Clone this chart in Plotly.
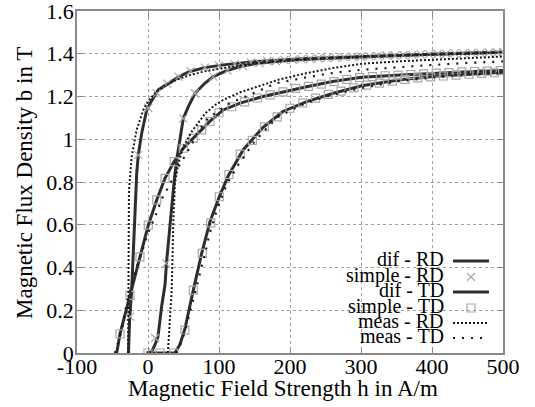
import plotly.graph_objects as go

# ---------------- data ----------------
# dif - RD : two rising branches (solid)
dif_rd1_h = [-27.5, -26, -23, -19.5, -15.9, -13.7, -8.9, -1.8, 5, 14.5, 28.6, 45, 59, 80, 106, 153, 223, 300, 400, 500]
dif_rd1_b = [0, 0.15, 0.294, 0.56, 0.84, 0.926, 1.028, 1.137, 1.18, 1.231, 1.262, 1.295, 1.317, 1.335, 1.348, 1.364, 1.378, 1.388, 1.398, 1.408]
dif_rd2_h = [-2, 5, 10, 14, 19.3, 24, 26, 31, 37, 40.4, 45, 49.7, 56.8, 66.2, 80, 92, 110, 130, 153, 176.5, 200, 240, 300, 400, 500]
dif_rd2_b = [0, 0.005, 0.04, 0.075, 0.22, 0.32, 0.42, 0.606, 0.809, 0.903, 0.997, 1.098, 1.153, 1.215, 1.262, 1.293, 1.32, 1.34, 1.355, 1.364, 1.37, 1.377, 1.386, 1.398, 1.407]

# simple - RD : x markers
simple_rd1_h = [-25.4, -13.7, 0.4, 12.3, 27, 43, 60, 80, 100, 122, 145, 168, 192, 216, 240, 264, 288, 312, 336, 360, 384, 408, 432, 456, 480, 500]
simple_rd1_b = [0.17, 0.926, 1.146, 1.215, 1.26, 1.293, 1.318, 1.335, 1.345, 1.353, 1.36, 1.366, 1.371, 1.375, 1.379, 1.382, 1.386, 1.389, 1.392, 1.394, 1.397, 1.399, 1.402, 1.404, 1.406, 1.408]
simple_rd2_h = [10, 25.5, 49.7, 66, 92, 112, 134, 157, 180, 204, 228, 252, 276, 300, 324, 348, 372, 396, 420, 444, 468, 492]
simple_rd2_b = [0.07, 0.419, 1.098, 1.215, 1.293, 1.322, 1.342, 1.356, 1.365, 1.371, 1.376, 1.38, 1.383, 1.386, 1.389, 1.392, 1.395, 1.397, 1.4, 1.402, 1.404, 1.406]

# dif - TD : two rising branches (solid)
dif_td1_h = [-44.1, -39.4, -32.4, -25.4, -12.3, 0.4, 12.3, 23.9, 37, 49.7, 63.8, 75.6, 87.3, 106, 129.6, 162, 190.6, 223.5, 260, 301, 350, 402, 450, 500]
dif_td1_b = [0, 0.09, 0.18, 0.27, 0.445, 0.598, 0.716, 0.817, 0.897, 0.958, 1.005, 1.044, 1.085, 1.137, 1.169, 1.2, 1.223, 1.246, 1.27, 1.29, 1.3, 1.309, 1.316, 1.322]
dif_td2_h = [-1.8, 14.5, 26.3, 38, 45, 52.1, 63.8, 75.6, 87.3, 100.4, 113.6, 134, 161.7, 190, 223.5, 261, 301, 355, 402, 450, 500]
dif_td2_b = [0, 0, 0, 0, 0.04, 0.114, 0.294, 0.466, 0.614, 0.731, 0.833, 0.95, 1.055, 1.13, 1.176, 1.215, 1.25, 1.278, 1.293, 1.303, 1.313]

# simple - TD : square markers
simple_td1_h = [-39.4, -25.4, -11.3, 0.4, 12.3, 23.9, 37, 49.7, 63.8, 75.6, 87.3, 100, 118, 136, 154, 172, 190, 208, 226, 244, 262, 280, 298, 316, 334, 352, 370, 388, 406, 424, 442, 460, 478, 496]
simple_td1_b = [0.09, 0.27, 0.45, 0.598, 0.716, 0.817, 0.895, 0.958, 1.005, 1.044, 1.083, 1.124, 1.152, 1.175, 1.193, 1.208, 1.222, 1.238, 1.247, 1.258, 1.27, 1.28, 1.288, 1.293, 1.297, 1.3, 1.303, 1.306, 1.309, 1.312, 1.315, 1.317, 1.319, 1.321]
simple_td2_h = [0, 17, 36, 52, 63.8, 76.5, 88.3, 100.4, 114, 130, 147, 164, 182, 200, 218, 236, 254, 272, 290, 308, 326, 344, 362, 380, 398, 416, 434, 452, 470, 488]
simple_td2_b = [0, 0, 0, 0.107, 0.294, 0.466, 0.609, 0.731, 0.835, 0.93, 0.995, 1.058, 1.105, 1.145, 1.17, 1.192, 1.21, 1.225, 1.24, 1.253, 1.263, 1.272, 1.28, 1.287, 1.292, 1.296, 1.3, 1.304, 1.308, 1.311]

# meas - RD : dense dotted
meas_rd1_h = [-28, -27.7, -26.8, -23, -16, -6.6, 0.4, 9.9, 21.5, 40, 59, 80, 106, 153, 223, 300, 400, 500]
meas_rd1_b = [0, 0.294, 0.762, 0.918, 1.044, 1.137, 1.18, 1.215, 1.246, 1.278, 1.30, 1.318, 1.333, 1.356, 1.374, 1.387, 1.397, 1.405]
meas_rd2_h = [28, 31, 33.4, 35.6, 38, 42.7, 49.7, 61.5, 80.3, 94.4, 106, 130, 153, 185, 223, 260, 301, 350, 402, 450, 500]
meas_rd2_b = [0, 0.15, 0.294, 0.606, 0.794, 0.887, 0.965, 1.035, 1.12, 1.16, 1.184, 1.22, 1.246, 1.28, 1.309, 1.333, 1.353, 1.364, 1.372, 1.38, 1.387]

# meas - TD : sparse dotted
meas_td1_h = [-46.5, -37, -30, -20, -8, 0, 9.9, 19.3, 31, 42.7, 53.5, 61.5, 70.8, 85, 115.5, 153, 181, 223.5, 260, 301, 350, 402, 450, 500]
meas_td1_b = [0, 0.107, 0.232, 0.36, 0.48, 0.56, 0.637, 0.72, 0.79, 0.87, 0.93, 0.975, 1.04, 1.1, 1.169, 1.223, 1.262, 1.29, 1.31, 1.325, 1.337, 1.348, 1.357, 1.364]
meas_td2_h = [40, 45, 52, 60, 70, 80, 87, 96, 104, 111, 125, 140, 150, 181, 214, 250, 301, 350, 402, 450, 500]
meas_td2_b = [0, 0.036, 0.1, 0.2, 0.33, 0.46, 0.56, 0.66, 0.731, 0.79, 0.87, 0.94, 0.99, 1.1, 1.158, 1.2, 1.24, 1.27, 1.29, 1.302, 1.31]

legend_labels = ["dif - RD", "simple - RD", "dif - TD", "simple - TD", "meas - RD", "meas - TD"]
x_ticks = [-100, 0, 100, 200, 300, 400, 500]
y_ticks = [0, 0.2, 0.4, 0.6, 0.8, 1, 1.2, 1.4, 1.6]


def join(a, b):
    return list(a) + [None] + list(b)


SERIF = "Liberation Serif"
DARK = "#2e2e2e"
MARK = "#a8a8a8"

fig = go.Figure()

# dif - RD
fig.add_trace(go.Scatter(x=join(dif_rd1_h, dif_rd2_h), y=join(dif_rd1_b, dif_rd2_b), mode="lines",
                         line=dict(color=DARK, width=3), name=legend_labels[0], connectgaps=False))
# simple - RD
fig.add_trace(go.Scatter(x=simple_rd1_h + simple_rd2_h, y=simple_rd1_b + simple_rd2_b, mode="markers",
                         marker=dict(symbol="x-thin-open", size=8, color=MARK, line=dict(color=MARK, width=1.2)),
                         name=legend_labels[1]))
# dif - TD
fig.add_trace(go.Scatter(x=join(dif_td1_h, dif_td2_h), y=join(dif_td1_b, dif_td2_b), mode="lines",
                         line=dict(color=DARK, width=3), name=legend_labels[2], connectgaps=False))
# simple - TD
fig.add_trace(go.Scatter(x=simple_td1_h + simple_td2_h, y=simple_td1_b + simple_td2_b, mode="markers",
                         marker=dict(symbol="square-open", size=8, color=MARK, line=dict(color=MARK, width=1.2)),
                         name=legend_labels[3]))
# meas - RD
fig.add_trace(go.Scatter(x=join(meas_rd1_h, meas_rd2_h), y=join(meas_rd1_b, meas_rd2_b), mode="lines",
                         line=dict(color="#1a1a1a", width=2, dash="2px,2px"), name=legend_labels[4],
                         connectgaps=False))
# meas - TD
fig.add_trace(go.Scatter(x=join(meas_td1_h, meas_td2_h), y=join(meas_td1_b, meas_td2_b), mode="lines",
                         line=dict(color="#1a1a1a", width=2.2, dash="2px,7px"), name=legend_labels[5],
                         connectgaps=False))

# ---- plot geometry (pixels) ----
W, H = 535, 407
L, R, T, B = 77, 32, 11, 54
pw, ph = W - L - R, H - T - B


def px2paper(px, py):
    return (px - L) / pw, (H - B - py) / ph


# ---- manual legend: text on the left, sample on the right ----
rows_py = [259, 275, 290, 306, 321, 336]
annotations = []
shapes = []
for i, (lab, py) in enumerate(zip(legend_labels, rows_py)):
    tx, ty = px2paper(446, py)
    annotations.append(dict(text=lab, x=tx, y=ty, xref="paper", yref="paper", xanchor="right",
                            yanchor="middle", showarrow=False, font=dict(family=SERIF, size=20, color="black")))
    sy = px2paper(0, py + 2)[1]
    x0 = px2paper(453, 0)[0]
    x1 = px2paper(489, 0)[0]
    xm = px2paper(471, 0)[0]
    if lab.startswith("dif"):
        shapes.append(dict(type="line", xref="paper", yref="paper", x0=x0, x1=x1, y0=sy, y1=sy,
                           line=dict(color=DARK, width=3)))
    elif lab == "meas - RD":
        shapes.append(dict(type="line", xref="paper", yref="paper", x0=x0, x1=x1, y0=sy, y1=sy,
                           line=dict(color="#1a1a1a", width=2, dash="2px,2px")))
    elif lab == "meas - TD":
        shapes.append(dict(type="line", xref="paper", yref="paper", x0=x0, x1=x1, y0=sy, y1=sy,
                           line=dict(color="#1a1a1a", width=2.2, dash="2px,7px")))
    elif lab == "simple - RD":
        dx, dy = 4 / pw, 4 / ph
        shapes.append(dict(type="line", xref="paper", yref="paper", x0=xm - dx, x1=xm + dx, y0=sy - dy, y1=sy + dy,
                           line=dict(color=MARK, width=1.2)))
        shapes.append(dict(type="line", xref="paper", yref="paper", x0=xm - dx, x1=xm + dx, y0=sy + dy, y1=sy - dy,
                           line=dict(color=MARK, width=1.2)))
    else:
        dx, dy = 4 / pw, 4 / ph
        shapes.append(dict(type="rect", xref="paper", yref="paper", x0=xm - dx, x1=xm + dx, y0=sy - dy, y1=sy + dy,
                           line=dict(color=MARK, width=1.2)))

# axis titles as annotations
ax, ay = px2paper(283, 389)
annotations.append(dict(text="Magnetic Field Strength h in A/m", x=ax, y=ay, xref="paper", yref="paper",
                        xanchor="center", yanchor="middle", showarrow=False,
                        font=dict(family=SERIF, size=23, color="black")))
ax, ay = px2paper(24, 183)
annotations.append(dict(text="Magnetic Flux Density b in T", x=ax, y=ay, xref="paper", yref="paper",
                        xanchor="center", yanchor="middle", showarrow=False, textangle=-90,
                        font=dict(family=SERIF, size=23, color="black")))

axis_common = dict(showline=True, mirror="ticks", linecolor="#8a8a8a", linewidth=1.5,
                   ticks="inside", ticklen=6, tickcolor="#8a8a8a", tickwidth=1,
                   showgrid=True, gridcolor="#a0a0a0", gridwidth=1, griddash="3px,3px",
                   zeroline=False, ticklabeloverflow="allow",
                   tickfont=dict(family=SERIF, size=22, color="black"))

fig.update_layout(
    width=W, height=H,
    margin=dict(l=L, r=R, t=T, b=B, autoexpand=False),
    paper_bgcolor="white", plot_bgcolor="white",
    font=dict(family=SERIF),
    showlegend=False,
    xaxis=dict(range=[-100, 500], tickmode="array", tickvals=x_ticks,
               ticktext=[str(v) for v in x_ticks], ticklabelstandoff=-7, **axis_common),
    yaxis=dict(range=[0, 1.6], tickmode="array", tickvals=y_ticks,
               ticktext=[("%g" % v) for v in y_ticks], ticklabelstandoff=-3, **axis_common),
    annotations=annotations,
    shapes=shapes,
)

fig.write_html("out.html", config={"displayModeBar": False},
               post_script="document.body.style.margin='0';document.body.style.overflow='hidden';")
